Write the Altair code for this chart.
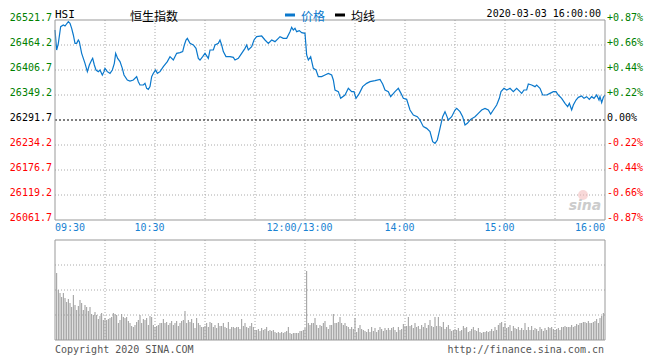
import altair as alt
import pandas as pd

# ---------------- data ----------------
PREV_CLOSE = 26291.7
P_MIN, P_MAX = 26061.7, 26521.7

# price trace: minutes since 09:30 on a continuous trading clock (lunch removed)
price_t = [0, 1, 2, 3.4, 5, 6, 8, 9, 10, 11, 12, 13, 14, 14.6, 16, 17, 18, 19.4, 20.6, 22,
           22.6, 23.6, 24.6, 26, 27, 28.4, 29.4, 30, 31.4, 33, 34.4, 35.6, 36.4, 37.6, 39, 40.4,
           41.4, 43.4, 45, 47, 49, 50, 51, 53, 54, 55, 56, 57, 58, 59, 60.4, 61.4, 63, 65, 67.4,
           69, 71, 73, 75, 76.6, 77.6, 78.6, 79.4, 81, 83, 84.6, 86, 87, 88.6, 90, 92, 93, 95,
           96, 98, 99, 100, 101, 102.6, 105, 107, 108, 110, 112, 114, 115, 116, 118, 119.4, 121,
           124, 126, 128, 130, 132, 134, 135, 137, 139, 141, 142, 143, 144, 145, 146.6, 148, 150,
           151, 152, 153.4, 155, 156.6, 158, 160, 162, 164, 166, 167, 168, 170, 171.4, 174, 176,
           178, 179.4, 180.6, 182.6, 184.6, 187, 189, 192, 195, 196.6, 198, 200, 201.4, 204, 206,
           207.6, 209, 211, 213, 215, 217.4, 219, 221, 223, 225, 226.6, 228, 229.4, 231, 232.6,
           234, 236, 238, 240, 241, 243, 244.6, 246, 247.4, 249.4, 252, 254, 256, 258, 260,
           261.4, 263, 265, 266.6, 267.6, 269.4, 271, 273, 275, 277, 279, 280, 281.4, 283, 284,
           286, 288, 289, 291, 292.6, 295, 297, 299, 300.6, 302, 304, 306, 307.6, 308.6, 310,
           311, 312.6, 314, 316, 317.4, 319, 320.6, 322, 323.4, 325, 326.4, 327, 328, 329, 330]
price_v = [26498.7, 26452.7, 26468.0, 26506.4, 26510.2, 26507.9, 26517.9, 26514.0, 26502.5,
           26487.2, 26468.0, 26468.0, 26475.7, 26471.9, 26445.0, 26433.5, 26422.0, 26402.9,
           26418.2, 26429.7, 26433.5, 26418.2, 26406.7, 26402.9, 26406.7, 26395.2, 26402.9,
           26410.5, 26402.9, 26399.0, 26406.7, 26422.0, 26445.0, 26433.5, 26425.9, 26410.5,
           26395.2, 26383.7, 26381.4, 26383.7, 26391.4, 26379.9, 26372.2, 26372.2, 26376.0,
           26364.5, 26362.2, 26368.4, 26391.4, 26399.0, 26406.7, 26399.0, 26402.9, 26414.4,
           26425.9, 26437.4, 26429.7, 26445.0, 26446.6, 26448.9, 26464.2, 26475.7, 26479.5,
           26468.0, 26464.2, 26456.5, 26433.5, 26429.7, 26437.4, 26445.0, 26433.5, 26452.7,
           26452.7, 26464.2, 26468.0, 26475.7, 26464.2, 26448.9, 26437.4, 26437.4, 26435.8,
           26429.7, 26433.5, 26445.0, 26456.5, 26464.2, 26452.7, 26460.4, 26475.7, 26483.4,
           26484.9, 26475.7, 26468.0, 26475.7, 26471.9, 26479.5, 26483.4, 26479.5, 26479.5,
           26494.9, 26504.8, 26498.7, 26502.5, 26494.9, 26497.2, 26492.6, 26491.0,
           26441.2, 26429.7, 26437.4, 26410.5, 26406.7, 26391.4, 26391.4, 26395.2, 26399.0,
           26395.2, 26383.7, 26360.7, 26356.9, 26341.5, 26349.2, 26364.5, 26356.9, 26356.9,
           26341.5, 26353.0, 26368.4, 26376.0, 26379.9, 26382.2, 26385.2, 26374.5, 26360.7,
           26356.9, 26345.4, 26356.9, 26364.5, 26353.0, 26341.5, 26339.2, 26314.7, 26303.2,
           26299.4, 26291.7, 26276.4, 26272.5, 26264.9, 26241.9, 26238.0, 26245.7, 26272.5,
           26299.4, 26310.9, 26291.7, 26299.4, 26314.7, 26318.5, 26310.9, 26299.4, 26280.2,
           26284.0, 26293.2, 26299.4, 26307.0, 26314.7, 26318.5, 26314.7, 26305.5, 26314.7,
           26326.2, 26341.5, 26356.9, 26364.5, 26360.7, 26364.5, 26356.9, 26364.5, 26356.9,
           26353.0, 26360.7, 26360.7, 26374.5, 26372.2, 26368.4, 26372.2, 26364.5, 26349.2,
           26349.2, 26353.0, 26356.9, 26356.9, 26349.2, 26341.5, 26330.0, 26322.4, 26330.0,
           26314.7, 26326.2, 26337.7, 26343.8, 26346.9, 26341.5, 26345.4, 26339.2, 26345.4,
           26341.5, 26349.2, 26337.7, 26345.4, 26331.5, 26343.8, 26349.2]

# volume bars (relative units, one per minute)
vol_morning = [67, 50, 47, 43, 47, 42, 38, 41, 37, 33,
               45, 35, 30, 34, 40, 37, 30, 35, 33, 29,
               33, 26, 25, 28, 25, 21, 24, 27, 20, 22,
               20, 21, 22, 23, 27, 26, 25, 17, 20, 26,
               23, 22, 23, 19, 17, 14, 13, 15, 18, 20,
               25, 17, 21, 20, 22, 15, 24, 23, 15, 13,
               14, 15, 17, 17, 21, 17, 18, 15, 17, 19,
               15, 17, 19, 14, 17, 19, 20, 29, 17, 20,
               18, 21, 17, 12, 22, 17, 15, 13, 13, 14,
               17, 13, 18, 17, 13, 15, 12, 17, 14, 14,
               17, 13, 12, 18, 11, 13, 13, 12, 13, 13,
               11, 21, 14, 17, 13, 12, 14, 17, 13, 10,
               10, 11, 9, 12, 10, 11, 13, 9, 10, 9,
               10, 8, 7, 8, 7, 8, 7, 8, 9, 13,
               7, 6, 7, 7, 7, 7, 9, 9, 10, 12]
vol_open_pm = [69]
vol_afternoon = [17, 15, 17, 17, 22, 15, 12, 15, 14, 17, 19, 13, 11, 15, 15, 26, 17, 17, 18, 23,
                 17, 15, 17, 14, 13,
                 11, 13, 11, 22, 8, 12, 15, 11, 10, 9,
                 8, 11, 8, 13, 9, 12, 8, 10, 13, 11,
                 9, 12, 10, 12, 10, 12, 13, 10, 8, 13,
                 10, 11, 16, 14, 14, 23, 14, 15, 12, 17,
                 13, 14, 11, 15, 13, 17, 12, 15, 20, 14,
                 13, 23, 14, 23, 14, 13, 18, 11, 13, 15,
                 11, 9, 10, 11, 10, 12, 9, 10, 14, 12,
                 13, 8, 9, 11, 13, 10, 9, 12, 8, 7,
                 8, 8, 9, 8, 9, 11, 9, 13, 10, 15,
                 17, 18, 13, 17, 12, 13, 15, 9, 14, 12,
                 11, 13, 10, 12, 10, 17, 10, 13, 10, 14,
                 10, 12, 11, 9, 13, 11, 9, 12, 10, 13,
                 12, 13, 11, 10, 11, 12, 10, 13, 13, 14,
                 13, 13, 13, 15, 13, 14, 16, 15, 17, 17,
                 18, 18, 17, 19, 17, 17, 18, 19, 21, 17,
                 22, 24, 27]

price_ticks = [26521.7, 26464.2, 26406.7, 26349.2, 26291.7, 26234.2, 26176.7, 26119.2, 26061.7]
pct_labels = ["+0.87%", "+0.66%", "+0.44%", "+0.22%", "0.00%", "-0.22%", "-0.44%", "-0.66%", "-0.87%"]
time_ticks = [0, 60, 150, 210, 270, 330]
time_labels = ["09:30", "10:30", "12:00/13:00", "14:00", "15:00", "16:00"]
grid_t = [30, 60, 90, 120, 150, 180, 210, 240, 270, 300]
vol_grid = [25, 50, 75]

# ---------------- chart ----------------
W, H = 550, 320
GREEN, RED, BLUE = "#008000", "#ff0000", "#0a78cc"
MONO = "DejaVu Sans Mono"
CJK = "Noto Sans CJK SC"

xs = alt.Scale(domain=[0, 330], range=[0, 550], nice=False, zero=False)
py = alt.Scale(domain=[P_MIN, P_MAX], range=[200, 0], nice=False, zero=False)
vy = alt.Scale(domain=[0, 100], range=[320, 220], nice=False, zero=False)

price_df = pd.DataFrame({"t": price_t, "p": price_v})
vols = vol_morning + vol_open_pm + vol_afternoon
vol_df = pd.DataFrame({"t": list(range(1, len(vols) + 1)), "v": vols})


def tick_color(v):
    if abs(v - PREV_CLOSE) < 0.05:
        return "#000000"
    return GREEN if v > PREV_CLOSE else RED


ticks_df = pd.DataFrame({
    "p": price_ticks,
    "lab": [f"{v:.1f}" for v in price_ticks],
    "pct": pct_labels,
    "c": [tick_color(v) for v in price_ticks],
})
inner_df = ticks_df[(ticks_df.p < P_MAX - 1) & (ticks_df.p > P_MIN + 1) &
                    ((ticks_df.p - PREV_CLOSE).abs() > 0.05)]
time_df = pd.DataFrame({"t": time_ticks, "lab": time_labels})
gridt_df = pd.DataFrame({"t": grid_t})
volgrid_df = pd.DataFrame({"v": vol_grid})
one = pd.DataFrame({"a": [0]})

dot = dict(color="#aaaaaa", strokeWidth=1, strokeDash=[1, 2])

hgrid = alt.Chart(inner_df).mark_rule(**dot).encode(
    y=alt.Y("p:Q", scale=py, axis=None), x=alt.value(0), x2=alt.value(W))
vgrid_main = alt.Chart(gridt_df).mark_rule(**dot).encode(
    x=alt.X("t:Q", scale=xs, axis=None), y=alt.value(0), y2=alt.value(200))
vgrid_vol = alt.Chart(gridt_df).mark_rule(**dot).encode(
    x=alt.X("t:Q", scale=xs, axis=None), y=alt.value(220), y2=alt.value(320))
hgrid_vol = alt.Chart(volgrid_df).mark_rule(**dot).encode(
    y=alt.Y("v:Q", scale=vy, axis=None), x=alt.value(0), x2=alt.value(W))
prev_line = alt.Chart(pd.DataFrame({"p": [PREV_CLOSE]})).mark_rule(
    color="#000000", strokeWidth=1, strokeDash=[2, 2]).encode(
    y=alt.Y("p:Q", scale=py, axis=None), x=alt.value(0), x2=alt.value(W))

frame_main = alt.Chart(one).mark_rect(fillOpacity=0, stroke="#999999", strokeWidth=1).encode(
    x=alt.value(0), x2=alt.value(W), y=alt.value(0), y2=alt.value(200))
frame_vol = alt.Chart(one).mark_rect(fillOpacity=0, stroke="#999999", strokeWidth=1).encode(
    x=alt.value(0), x2=alt.value(W), y=alt.value(220), y2=alt.value(320))

bars = alt.Chart(vol_df).mark_rule(color="#999999", strokeWidth=1).encode(
    x=alt.X("t:Q", scale=xs, axis=None),
    y=alt.Y("v:Q", scale=vy, axis=None),
    y2=alt.datum(0))

line = alt.Chart(price_df).mark_line(color=BLUE, strokeWidth=1.2).encode(
    x=alt.X("t:Q", scale=xs, axis=None),
    y=alt.Y("p:Q", scale=py, axis=None))

left_lab = alt.Chart(ticks_df).mark_text(
    align="right", baseline="middle", font=MONO, fontSize=10, dy=-2.5).encode(
    y=alt.Y("p:Q", scale=py, axis=None), x=alt.value(-3),
    text="lab:N", color=alt.Color("c:N", scale=None))
right_lab = alt.Chart(ticks_df).mark_text(
    align="left", baseline="middle", font=MONO, fontSize=10, dy=-2.5).encode(
    y=alt.Y("p:Q", scale=py, axis=None), x=alt.value(W + 2),
    text="pct:N", color=alt.Color("c:N", scale=None))

tcolor = "#1a82d2"
time_first = alt.Chart(time_df.iloc[[0]]).mark_text(
    align="left", baseline="middle", font=MONO, fontSize=10, color=tcolor).encode(
    x=alt.X("t:Q", scale=xs, axis=None), y=alt.value(207.5), text="lab:N")
time_mid = alt.Chart(time_df.iloc[1:-1]).mark_text(
    align="center", baseline="middle", font=MONO, fontSize=10, color=tcolor, dx=-5.5).encode(
    x=alt.X("t:Q", scale=xs, axis=None), y=alt.value(207.5), text="lab:N")
time_last = alt.Chart(time_df.iloc[[-1]]).mark_text(
    align="right", baseline="middle", font=MONO, fontSize=10, color=tcolor).encode(
    x=alt.X("t:Q", scale=xs, axis=None), y=alt.value(207.5), text="lab:N")


def label(text, x, y, align="left", font=MONO, size=10, color="#000000",
          baseline="middle", **kw):
    return alt.Chart(one).mark_text(
        text=text, align=align, baseline=baseline, font=font, fontSize=size,
        color=color, **kw).encode(x=alt.value(x), y=alt.value(y))


HY = -11.5  # top of header line (page y = 8.5)
CY = -8.5   # top of CJK header text
hsi = label("HSI", 0, HY, size=11, baseline="top")
title = label("恒生指数", 99, CY, align="center", font=CJK, size=12, baseline="top")
leg_blue = alt.Chart(one).mark_rect(color=BLUE).encode(
    x=alt.value(230), x2=alt.value(240), y=alt.value(-6.5), y2=alt.value(-3.5))
leg_blue_t = label("价格", 246, CY, font=CJK, size=12, color=BLUE, baseline="top")
leg_black = alt.Chart(one).mark_rect(color="#000000").encode(
    x=alt.value(280), x2=alt.value(290), y=alt.value(-6.5), y2=alt.value(-3.5))
leg_black_t = label("均线", 296, CY, font=CJK, size=12, baseline="top")
stamp = label("2020-03-03 16:00:00", 546, HY, align="right", baseline="top")
foot_l = label("Copyright 2020 SINA.COM", 0, 329.5, color="#555555")
foot_r = label("http://finance.sina.com.cn", 549, 329.5, align="right", color="#555555")
wm_eye = alt.Chart(one).mark_point(filled=True, color="#f2b8b8", size=100, opacity=0.55).encode(
    x=alt.value(528), y=alt.value(175))
wm_txt = label("sina", 530, 186, align="center", font="DejaVu Sans", size=14,
               color="#cccccc", fontStyle="italic", fontWeight="bold")

chart = alt.layer(
    hgrid, vgrid_main, vgrid_vol, hgrid_vol, wm_eye, wm_txt, bars, prev_line, line,
    frame_main, frame_vol, left_lab, right_lab, time_first, time_mid, time_last,
    hsi, title, leg_blue, leg_blue_t, leg_black, leg_black_t, stamp, foot_l, foot_r,
).resolve_scale(y="independent").properties(
    width=W, height=H,
    autosize=alt.AutoSizeParams(type="none"),
    padding={"left": 47, "top": 12, "right": 47, "bottom": 20},
    background="white",
).configure_view(stroke=None)

chart.save("out.html", embed_options={"renderer": "svg", "actions": False})
